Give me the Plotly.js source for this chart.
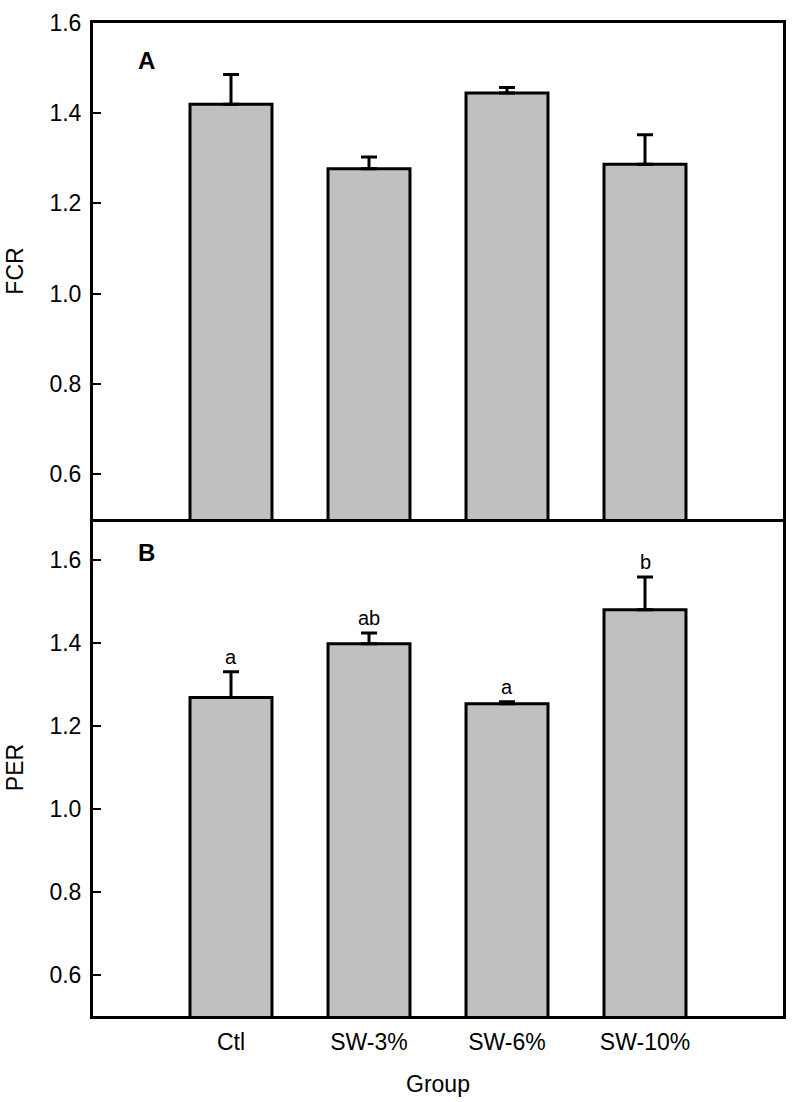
<!DOCTYPE html>
<html>
<head>
<meta charset="utf-8">
<script src="https://cdn.plot.ly/plotly-3.0.1.min.js"></script>
<style>html,body{margin:0;padding:0;background:#fff;}#chart{width:800px;height:1102px;}</style>
</head>
<body>
<div id="chart"></div>
<script>
const groups = ["Ctl", "SW-3%", "SW-6%", "SW-10%"];
const fcr = [1.420, 1.277, 1.445, 1.287];
const fcrErr = [0.066, 0.026, 0.012, 0.065];
const per = [1.269, 1.399, 1.254, 1.481];
const perErr = [0.062, 0.026, 0.005, 0.079];
const perLetters = ["a", "ab", "a", "b"];
const yTicks = [0.6, 0.8, 1.0, 1.2, 1.4, 1.6];
const yTickText = ["0.6", "0.8", "1.0", "1.2", "1.4", "1.6"];

const pos = groups.map((g, i) => i);
const FONT = "Liberation Sans, Arial, sans-serif";
const FS = 23;

const barStyle = {color: "#c0c0c0", line: {color: "#000", width: 3}};
const errStyle = (arr) => ({type: "data", array: arr, arrayminus: arr.map(() => 0), symmetric: false, visible: true, color: "#000", thickness: 3, width: 8});

const traces = [
  {type: "bar", x: pos, y: fcr, xaxis: "x2", yaxis: "y2", width: 0.594, marker: barStyle, error_y: errStyle(fcrErr), hoverinfo: "skip"},
  {type: "bar", x: pos, y: per, xaxis: "x", yaxis: "y", width: 0.594, marker: barStyle, error_y: errStyle(perErr), hoverinfo: "skip"}
];

const annotations = [
  {text: "<b>A</b>", xref: "x2", yref: "y2", x: -0.615, y: 1.517, showarrow: false, font: {family: FONT, size: 24, color: "#000"}},
  {text: "<b>B</b>", xref: "x", yref: "y", x: -0.615, y: 1.62, showarrow: false, font: {family: FONT, size: 24, color: "#000"}}
].concat(per.map((v, i) => ({
  text: perLetters[i], xref: "x", yref: "y", x: pos[i], y: v + perErr[i], yanchor: "bottom", yshift: 2,
  showarrow: false, font: {family: FONT, size: 20, color: "#000"}
})));

const axisCommon = {
  showline: true, mirror: true, linecolor: "#000", linewidth: 3,
  showgrid: false, zeroline: false
};

const yCommon = Object.assign({}, axisCommon, {
  ticks: "inside", ticklen: 8, tickwidth: 2, tickcolor: "#000",
  tickvals: yTicks, ticktext: yTickText, ticklabelstandoff: 4,
  tickfont: {family: FONT, size: FS, color: "#000"}
});

const layout = {
  width: 800, height: 1102,
  margin: {l: 93, r: 17, t: 23, b: 86},
  paper_bgcolor: "#fff", plot_bgcolor: "#fff",
  showlegend: false,
  font: {family: FONT, color: "#000"},
  xaxis: Object.assign({}, axisCommon, {
    mirror: false,
    anchor: "y", range: [-1, 4], tickvals: pos, ticktext: groups, ticks: "",
    ticklabelstandoff: 3,
    tickfont: {family: FONT, size: FS, color: "#000"},
    title: {text: "Group", font: {family: FONT, size: FS, color: "#000"}, standoff: 23}
  }),
  xaxis2: Object.assign({}, axisCommon, {
    anchor: "y2", range: [-1, 4], tickvals: pos, showticklabels: false, ticks: ""
  }),
  yaxis: Object.assign({}, yCommon, {
    domain: [0, 0.5005], range: [0.5, 1.7], anchor: "x",
    title: {text: "PER", font: {family: FONT, size: FS, color: "#000"}, standoff: 20}
  }),
  yaxis2: Object.assign({}, yCommon, {
    domain: [0.5005, 1], range: [0.5, 1.6], anchor: "x2",
    title: {text: "FCR", font: {family: FONT, size: FS, color: "#000"}, standoff: 20}
  }),
  annotations: annotations
};

Plotly.newPlot("chart", traces, layout, {staticPlot: true});
</script>
</body>
</html>
